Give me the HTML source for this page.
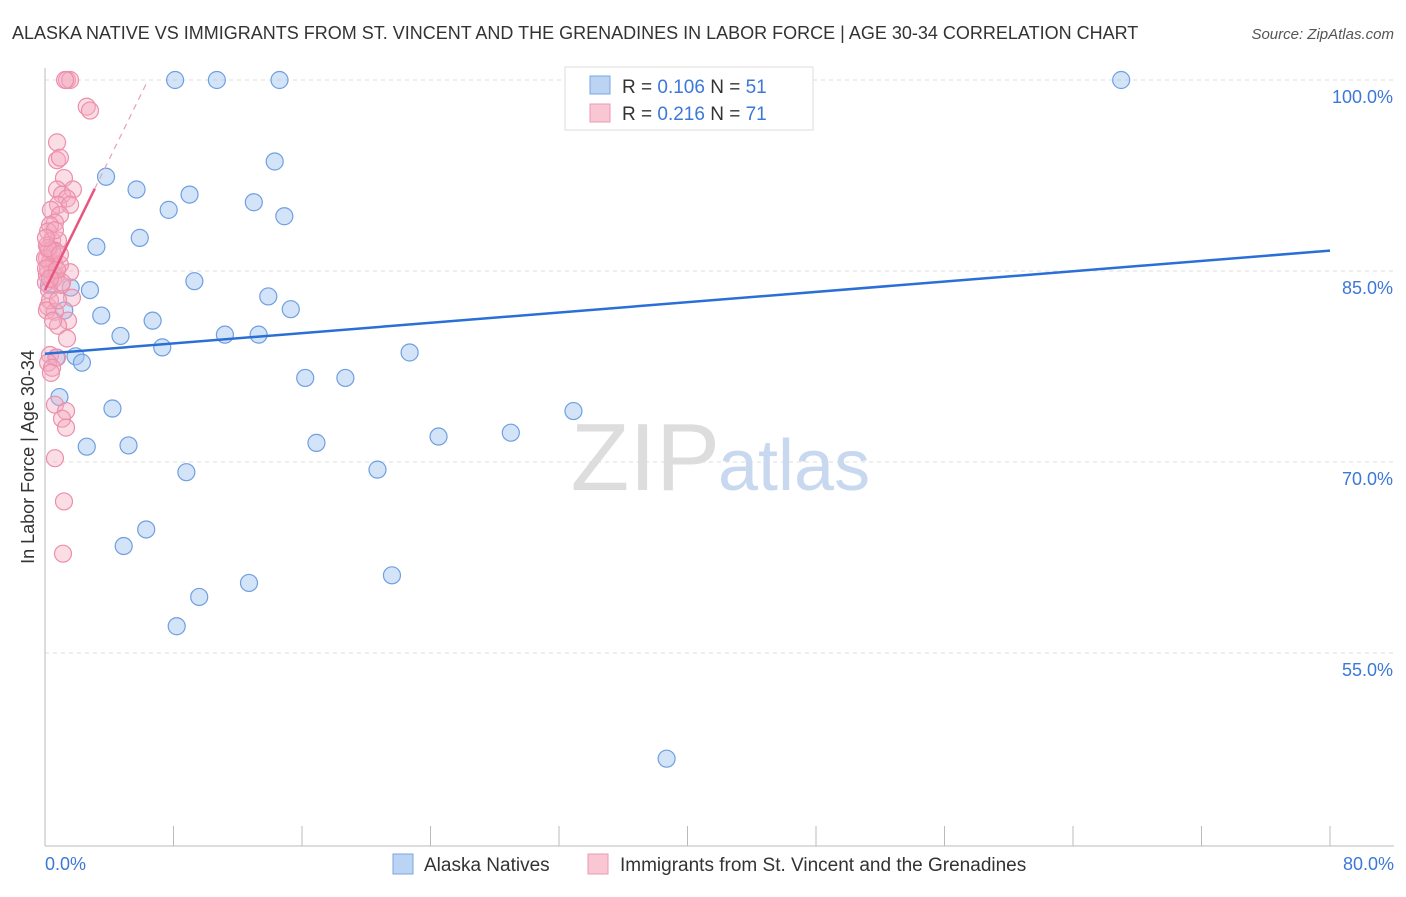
<!DOCTYPE html>
<html><head><meta charset="utf-8"><style>
body{margin:0;background:#fff;font-family:"Liberation Sans",sans-serif;}
svg text{font-family:"Liberation Sans",sans-serif;}
</style></head><body>
<svg width="1406" height="892" xmlns="http://www.w3.org/2000/svg">
<text x="12" y="39" font-size="18" fill="#333">ALASKA NATIVE VS IMMIGRANTS FROM ST. VINCENT AND THE GRENADINES IN LABOR FORCE | AGE 30-34 CORRELATION CHART</text>
<text x="1394" y="39" font-size="15" fill="#555" font-style="italic" text-anchor="end">Source: ZipAtlas.com</text>
<g id="grid"></g>
<text x="720" y="490" font-size="96" fill="#ddd" text-anchor="end" font-family="Liberation Serif">ZIP</text>
<text x="718" y="490" font-size="72" fill="#c8d8ef">atlas</text>
<g id="axes"></g>
<g id="marks"></g>
<text transform="translate(34,457) rotate(-90)" font-size="18" fill="#333" text-anchor="middle">In Labor Force | Age 30-34</text>
<g>
<rect x="565" y="67" width="248" height="63" fill="#fff" stroke="#ddd"/>
<rect x="590" y="76" width="20" height="18" fill="#bcd4f4" stroke="#7aa6e6"/>
<text x="622" y="93" font-size="19" fill="#333">R = <tspan fill="#3b78d8">0.106</tspan>   N = <tspan fill="#3b78d8">51</tspan></text>
<rect x="590" y="104" width="20" height="18" fill="#f9c6d4" stroke="#ee99b2"/>
<text x="622" y="120" font-size="19" fill="#333">R = <tspan fill="#3b78d8"> 0.216</tspan>   N = <tspan fill="#3b78d8">71</tspan></text>
</g>
<g>
<rect x="393" y="854" width="20" height="20" fill="#bcd4f4" stroke="#7aa6e6"/>
<text x="424" y="871" font-size="19" fill="#333">Alaska Natives</text>
<rect x="588" y="854" width="20" height="20" fill="#f9c6d4" stroke="#ee99b2"/>
<text x="620" y="871" font-size="19" fill="#333">Immigrants from St. Vincent and the Grenadines</text>
</g>
</svg>
<script>
const blueX=[8.1,10.7,14.6,37.8,45.0,67.0,3.8,14.3,5.7,9.0,7.7,13.0,14.9,3.2,5.9,9.3,2.8,13.9,15.3,3.5,6.7,1.2,4.7,11.2,13.3,7.3,22.7,1.9,2.3,16.2,18.7,0.9,4.2,32.9,24.5,29.0,2.6,5.2,16.9,8.8,20.7,6.3,4.9,12.7,21.6,9.6,8.2,38.7,0.7,0.25,1.6];
const blueY=[100,100,100,100,100,100,92.4,93.6,91.4,91.0,89.8,90.4,89.3,86.9,87.6,84.2,83.5,83.0,82.0,81.5,81.1,81.9,79.9,80.0,80.0,79.0,78.6,78.3,77.8,76.6,76.6,75.1,74.2,74.0,72.0,72.3,71.2,71.3,71.5,69.2,69.4,64.7,63.4,60.5,61.1,59.4,57.1,46.7,78.2,83.9,83.7];
const pinkX=[1.37,1.56,1.25,2.6,2.8,0.75,0.75,0.93,1.18,0.75,1.74,1.06,1.37,0.81,1.56,0.37,0.93,0.62,0.31,0.19,0.44,0.12,0.25,0.5,0.12,0.31,0.56,0.19,0.44,0.12,0.68,1.56,0.5,0.06,1.0,1.68,0.19,0.62,1.43,0.81,1.37,0.31,0.75,0.19,0.44,0.37,0.62,1.31,1.06,1.31,0.62,1.18,1.12,0.81,0.62,0.93,0.25,1.06,0.31,0.12,0.5,0.81,0.0,0.06,0.44,0.75,0.31,0.19,0.93,0.62,0.06];
const pinkY=[100,100,100,97.9,97.6,95.1,93.7,93.9,92.3,91.4,91.4,91.0,90.7,90.2,90.2,89.8,89.4,88.8,88.6,88.1,87.4,87.0,86.6,86.3,86.0,85.7,85.6,85.2,84.9,84.7,84.6,84.9,84.3,84.1,83.9,82.9,82.2,81.8,81.1,80.7,79.7,78.4,78.2,77.8,77.4,77.0,74.5,74.0,73.4,72.7,70.3,66.9,62.8,87.4,86.6,85.5,83.5,84.1,82.7,81.9,81.1,82.7,86.0,85.2,86.6,85.1,84.4,86.8,86.3,88.2,87.6];
const blueLine=[78.5,86.6];      // y at x=0 and x=80
const pinkLine=[83.5,2.57];      // intercept, slope
const yTicks=[100,85,70,55];
const xTickCount=11;
const NS="http://www.w3.org/2000/svg";
const X=v=>45+v*16.0625, Y=v=>80+(100-v)*12.733;
function mk(tag,attrs,parent){const e=document.createElementNS(NS,tag);for(const k in attrs)e.setAttribute(k,attrs[k]);parent.appendChild(e);return e;}
const grid=document.getElementById('grid'),axes=document.getElementById('axes'),marks=document.getElementById('marks');
yTicks.forEach(t=>{
 const l=mk('line',{x1:45,x2:1394,y1:Y(t),y2:Y(t),stroke:'#ddd','stroke-dasharray':'4,4'},grid);
 
 
 const tx=mk('text',{x:1393,y:Y(t)+23,'font-size':18,fill:'#3b78d8','text-anchor':'end'},axes);
 tx.textContent=t.toFixed(1)+'%';
 
 
});
const ya=mk('line',{x1:45,x2:45,y1:68,y2:846,stroke:'#bbb'},axes);


const xa=mk('line',{x1:45,x2:1394,y1:846,y2:846,stroke:'#bbb'},axes);


for(let i=0;i<xTickCount;i++){const t=mk('line',{x1:X(i*8),x2:X(i*8),y1:826,y2:846,stroke:'#bbb'},axes);
 
 }
[[0,'0.0%','start',45],[80,'80.0%','end',1394]].forEach(a=>{const t=mk('text',{x:a[3],y:870,'font-size':18,fill:'#3b78d8','text-anchor':a[2]},axes);t.textContent=a[1];
 
 });
blueX.forEach((v,i)=>{const c=mk('circle',{cx:X(v),cy:Y(blueY[i]),r:8.5,fill:'rgba(160,195,240,0.45)',stroke:'#6f9fe0','stroke-width':1.2},marks);
 
 });
pinkX.forEach((v,i)=>{const c=mk('circle',{cx:X(v),cy:Y(pinkY[i]),r:8.5,fill:'rgba(245,170,192,0.4)',stroke:'#ec8fab','stroke-width':1.2},marks);
 
 });
const bl=mk('line',{x1:X(0),y1:Y(blueLine[0]),x2:X(80),y2:Y(blueLine[1]),stroke:'#2a6fd6','stroke-width':2.5},marks);


const pl=mk('line',{x1:X(0),y1:Y(pinkLine[0]),x2:X(3.1),y2:Y(pinkLine[0]+pinkLine[1]*3.1),stroke:'#e8557f','stroke-width':2.5},marks);


const xe=(100-pinkLine[0])/pinkLine[1];
const pd=mk('line',{x1:X(3.1),y1:Y(pinkLine[0]+pinkLine[1]*3.1),x2:X(xe),y2:Y(100),stroke:'#e8a0b5','stroke-width':1.2,'stroke-dasharray':'6,5'},marks);


</script>
</body></html>
